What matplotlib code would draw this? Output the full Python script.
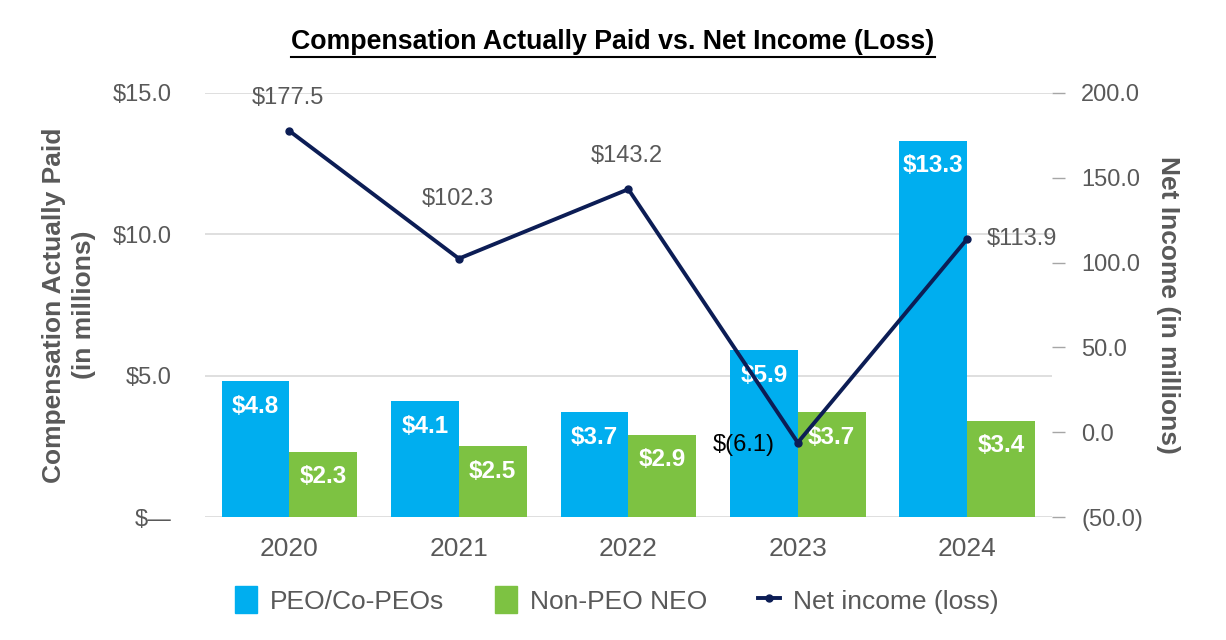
import matplotlib.pyplot as plt
import numpy as np
from matplotlib.lines import Line2D
from matplotlib.patches import Patch

plt.rcParams['font.family'] = ['Liberation Sans', 'DejaVu Sans']

years = ['2020', '2021', '2022', '2023', '2024']
peo = [4.8, 4.1, 3.7, 5.9, 13.3]
non_peo = [2.3, 2.5, 2.9, 3.7, 3.4]
net_income = [177.5, 102.3, 143.2, -6.1, 113.9]

BLUE = '#00AEEF'
GREEN = '#7DC242'
NAVY = '#0C1D55'
GRAY = '#595959'

fig = plt.figure(figsize=(12.26, 6.4), dpi=100)
ax = fig.add_axes([0.167, 0.192, 0.691, 0.663])
ax2 = ax.twinx()

x = np.arange(len(years))
w = 0.4
b1 = ax.bar(x - w, peo, w, align='edge', color=BLUE, zorder=2)
b2 = ax.bar(x, non_peo, w, align='edge', color=GREEN, zorder=2)

for bars in (b1, b2):
    for bar in bars:
        ax.text(bar.get_x() + bar.get_width() / 2, bar.get_height() - 0.88,
                f'${bar.get_height():.1f}', ha='center', va='center',
                color='white', fontsize=17.5, fontweight='bold', zorder=3)

ax.set_xlim(-0.5, 4.5)
ax.set_ylim(0, 15)
ax.set_yticks([0, 5, 10, 15])
ax.set_yticklabels(['$\u2014', '$5.0', '$10.0', '$15.0'])
ax.set_xticks(x)
ax.set_xticklabels(years)
ax.grid(axis='y', color='#D9D9D9', linewidth=1.2, zorder=0)
ax.set_axisbelow(True)
ax.tick_params(axis='y', length=0, pad=24, labelsize=17, labelcolor=GRAY)
ax.tick_params(axis='x', length=0, pad=14, labelsize=19, labelcolor=GRAY)
ax.set_ylabel('Compensation Actually Paid\n(in millions)', fontsize=19,
              fontweight='bold', color=GRAY, labelpad=12, linespacing=1.3)

ax2.plot(x, net_income, color=NAVY, linewidth=2.8, marker='o', markersize=5, zorder=4)
ax2.set_ylim(-50, 200)
ax2.set_yticks([-50, 0, 50, 100, 150, 200])
ax2.set_yticklabels(['(50.0)', '0.0', '50.0', '100.0', '150.0', '200.0'])
ax2.tick_params(axis='y', length=9, width=1, color='#A6A6A6', pad=12,
                labelsize=17, labelcolor=GRAY)
ax2.set_ylabel('Net Income (in millions)', fontsize=19, fontweight='bold',
               color=GRAY, rotation=270, labelpad=27)

offsets = [(-2, 33), (-1, 60), (-2, 33), (-54, -2), (55, 0)]
label_colors = [GRAY, GRAY, GRAY, 'black', GRAY]
for xi, v, off, c in zip(x, net_income, offsets, label_colors):
    s = f'${v:.1f}' if v >= 0 else f'$({abs(v):.1f})'
    ax2.annotate(s, (xi, v), xytext=off, textcoords='offset pixels',
                 ha='center', va='center', fontsize=17, color=c, zorder=5)

for a in (ax, ax2):
    for sp in a.spines.values():
        sp.set_visible(False)

title = fig.text(0.5, 0.935, 'Compensation Actually Paid vs. Net Income (Loss)',
                 ha='center', va='center', fontsize=19.3, fontweight='bold',
                 color='black')
# underline the title across its own width
fig.canvas.draw()
bb = title.get_window_extent().transformed(fig.transFigure.inverted())
fig.add_artist(Line2D([bb.x0, bb.x1], [bb.y0 - 0.004, bb.y0 - 0.004],
                      color='black', linewidth=1.5))

handles = [Patch(color=BLUE, label='PEO/Co-PEOs'),
           Patch(color=GREEN, label='Non-PEO NEO'),
           Line2D([], [], color=NAVY, linewidth=2.8, marker='o', markersize=5,
                  label='Net income (loss)')]
fig.legend(handles=handles, loc='center', bbox_to_anchor=(0.503, 0.0625), ncol=3,
           frameon=False, fontsize=19, handlelength=0.85, handleheight=1.2,
           columnspacing=1.9, handletextpad=0.5, labelcolor=GRAY)

fig.savefig('out.png', dpi=100)
